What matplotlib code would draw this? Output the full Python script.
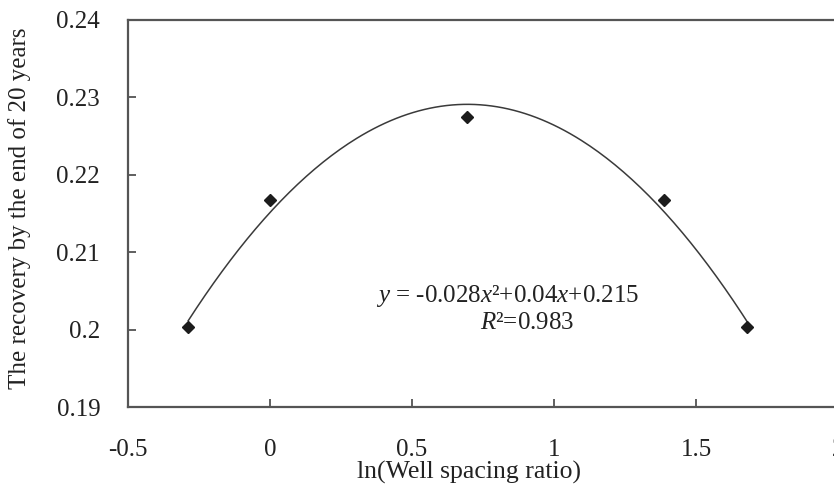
import numpy as np
import matplotlib
matplotlib.use("Agg")
import matplotlib.pyplot as plt

plt.rcParams['font.family'] = ['Liberation Serif', 'DejaVu Serif']
plt.rcParams['mathtext.fontset'] = 'custom'
plt.rcParams['mathtext.it'] = 'Liberation Serif:italic'
plt.rcParams['mathtext.rm'] = 'Liberation Serif'

# data
ln_ratio = [-0.288, 0.0, 0.693, 1.386, 1.680]
recovery = [0.2003, 0.2168, 0.2275, 0.2168, 0.2003]
x_ticks = [-0.5, 0, 0.5, 1, 1.5, 2]
x_tick_labels = ['-0.5', '0', '0.5', '1', '1.5', '2']
y_ticks = [0.19, 0.20, 0.21, 0.22, 0.23, 0.24]
y_tick_labels = ['0.19', '0.2', '0.21', '0.22', '0.23', '0.24']

# trendline (2nd order polynomial fit of the points)
coef = np.polyfit(ln_ratio, recovery, 2)
xs = np.linspace(min(ln_ratio), max(ln_ratio), 200)
ys = np.polyval(coef, xs)

fig = plt.figure(figsize=(8.34, 4.88), dpi=100)
# axes runs a bit past the right edge, like the cropped original
ax = fig.add_axes([128/834, 81/488, 710/834, 387/488])

ax.plot(xs, ys, color='#3a3a3a', linewidth=1.1)
ax.plot(ln_ratio, recovery, linestyle='none', marker='D', markersize=6,
        color='#1c1c1c')

ax.set_xlim(-0.5, 2)
ax.set_ylim(0.19, 0.24)
ax.set_xticks(x_ticks)
ax.set_xticklabels(x_tick_labels)
ax.set_yticks(y_ticks)
ax.set_yticklabels(y_tick_labels)
ax.tick_params(direction='in', length=6, width=1.2, color='#444444',
               labelsize=18, labelcolor='#222222')
ax.tick_params(axis='y', pad=20)
ax.tick_params(axis='x', pad=23)

for s in ['top', 'left', 'bottom']:
    ax.spines[s].set_color('#555555')
    ax.spines[s].set_linewidth(1.6)
ax.spines['right'].set_visible(False)

ax.set_xlabel('ln(Well spacing ratio)', fontsize=18.5, color='#222222')
ax.xaxis.set_label_coords(0.48, -0.14)
ax.set_ylabel('The recovery by the end of 20 years', fontsize=18,
              color='#222222')
ax.yaxis.set_label_coords(-0.136, 0.514)

ax.text(0.838, 0.2043, '$y$ = -0.028$x$²+0.04$x$+0.215', fontsize=18,
        ha='center', va='center', color='#222222')
ax.text(0.905, 0.2008, '$R$²=0.983', fontsize=18, ha='center', va='center',
        color='#222222')

fig.savefig('out.png', dpi=100)
